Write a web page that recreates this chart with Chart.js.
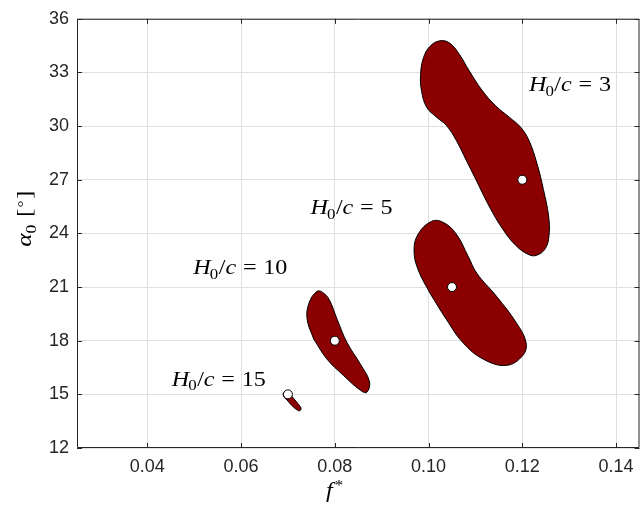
<!DOCTYPE html>
<html lang="en">
<head>
<meta charset="UTF-8">
<title>Operating regions</title>
<script src="https://cdn.jsdelivr.net/npm/chart.js"></script>
<style>
  html, body { margin: 0; padding: 0; background: #fff; overflow: hidden; }
  .chart-box { width: 645px; height: 513px; }
</style>
</head>
<body>
<div class="chart-box"><canvas id="regionChart" width="645" height="513"></canvas></div>
<script>
// axis ticks
const xTicks = [0.04, 0.06, 0.08, 0.10, 0.12, 0.14];
const yTicks = [12, 15, 18, 21, 24, 27, 30, 33, 36];

// design point (f*, alpha0) for each H0/c
const ratios = [3, 5, 10, 15];
const designF = [0.12, 0.105, 0.08, 0.07];
const designAlpha = [27, 21, 18, 15];

// region outlines (f*, alpha0), closed loops
const region3F = [0.1080, 0.1059, 0.1038, 0.1017, 0.0996, 0.0985, 0.0983, 0.0989, 0.1003, 0.1024, 0.1045, 0.1066, 0.1087, 0.1115, 0.1143, 0.1172, 0.1196, 0.1214, 0.1231, 0.1245, 0.1256, 0.1257, 0.1249, 0.1231, 0.1214, 0.1186, 0.1158, 0.1129, 0.1101, 0.1080];
const region3A = [28.11, 29.21, 30.04, 30.50, 31.05, 31.97, 32.89, 33.81, 34.46, 34.77, 34.64, 34.00, 33.08, 31.97, 31.14, 30.50, 29.95, 29.21, 27.93, 26.46, 24.98, 23.88, 23.15, 22.78, 22.81, 23.33, 24.25, 25.53, 27.01, 28.11];

const region5F = [0.1003, 0.0978, 0.0969, 0.0978, 0.1006, 0.1031, 0.1059, 0.1085, 0.1103, 0.1145, 0.1187, 0.1208, 0.1201, 0.1166, 0.1116, 0.1073, 0.1038, 0.1003];
const region5A = [20.66, 21.95, 23.05, 23.97, 24.67, 24.62, 23.97, 22.69, 21.77, 20.48, 19.01, 17.90, 17.17, 16.62, 16.98, 17.90, 19.19, 20.66];

const region10F = [0.0755, 0.0741, 0.0745, 0.0762, 0.0774, 0.0788, 0.0805, 0.0826, 0.0854, 0.0874, 0.0868, 0.0854, 0.0818, 0.0783, 0.0755];
const region10A = [18.09, 19.19, 20.11, 20.76, 20.70, 20.30, 19.19, 17.90, 16.71, 15.70, 15.11, 15.24, 16.07, 16.98, 18.09];

const region15F = [0.0719, 0.0728, 0.0725, 0.0719, 0.0707, 0.0698, 0.0691, 0.0691, 0.0700, 0.0709, 0.0719];
const region15A = [14.56, 14.22, 14.08, 14.14, 14.41, 14.69, 14.87, 15.11, 15.18, 14.87, 14.56];

// label anchors (left edge, baseline) in data units
const labelF = [0.1212, 0.0746, 0.0496, 0.0450];
const labelA = [31.94, 25.08, 21.71, 15.48];

const AXIS_COLOR = '#262626';
const GRID_COLOR = '#dfdfdf';
const REGION_FILL = '#8b0000';
const SERIF = "'Liberation Serif', 'Times New Roman', serif";

const toPoints = (xs, ys) => xs.map((v, i) => ({ x: v, y: ys[i] }));

const regions = [
    [region3F, region3A],
    [region5F, region5A],
    [region10F, region10A],
    [region15F, region15A]
];

const regionSets = regions.map(([f, a]) => ({
    data: toPoints(f, a),
    backgroundColor: REGION_FILL,
    borderColor: '#000',
    borderWidth: 1,
    fill: 'shape',
    tension: 0.4,
    pointRadius: 0,
    order: 2
}));

// set a small math expression: parts are [text, italic, baseline shift, gap before (em)]
function drawMath(ctx, x, y, size, sx, parts) {
    ctx.save();
    ctx.translate(x, y);
    ctx.scale(sx, 1);
    let cx = 0;
    parts.forEach(([text, italic, shift, gap]) => {
        const fs = shift !== 0 ? size * 0.7 : size;
        ctx.font = (italic ? 'italic ' : '') + fs + 'px ' + SERIF;
        cx += (gap || 0) * size;
        ctx.fillText(text, cx, shift);
        cx += ctx.measureText(text).width;
    });
    ctx.restore();
}

const ratioParts = n => [
    ['H', true, 0],
    ['0', false, 4.5, -0.04],
    ['/', false, 0, 0.02],
    ['c', true, 0],
    ['=', false, 0, 0.28],
    [String(n), false, 0, 0.28]
];

const annotations = {
    id: 'annotations',
    afterDatasetsDraw(chart) {
        const { ctx, chartArea: a, scales: { x, y } } = chart;
        ctx.save();
        ctx.fillStyle = '#000';
        ctx.textBaseline = 'alphabetic';
        ctx.textAlign = 'left';
        ratios.forEach((r, i) => {
            drawMath(ctx, x.getPixelForValue(labelF[i]) + 1, y.getPixelForValue(labelA[i]), 21, 1.15, ratioParts(r));
        });

        // x axis title f*
        drawMath(ctx, a.left + 249, a.bottom + 49, 22, 1.1, [
            ['f', true, 0],
            ['*', false, -7, 0.08]
        ]);

        // y axis title alpha_0 [deg], rotated
        ctx.save();
        ctx.translate(31, a.top + 228);
        ctx.rotate(-Math.PI / 2);
        drawMath(ctx, 0, 0, 22, 1.15, [
            ['\u03b1', true, 0],
            ['0', false, 4.5],
            ['[', false, 0, 0.3],
            ['\u00b0', false, -3, 0.05],
            [']', false, 0, 0.05]
        ]);
        ctx.restore();

        // box and inward ticks
        ctx.strokeStyle = AXIS_COLOR;
        ctx.lineWidth = 1;
        ctx.beginPath();
        ctx.rect(a.left + 0.5, a.top + 0.5, a.right - a.left - 1, a.bottom - a.top - 1);
        xTicks.forEach(v => {
            const px = Math.round(x.getPixelForValue(v)) + 0.5;
            ctx.moveTo(px, a.bottom); ctx.lineTo(px, a.bottom - 5);
            ctx.moveTo(px, a.top); ctx.lineTo(px, a.top + 5);
        });
        yTicks.forEach(v => {
            const py = Math.round(y.getPixelForValue(v)) + 0.5;
            ctx.moveTo(a.left, py); ctx.lineTo(a.left + 5, py);
            ctx.moveTo(a.right, py); ctx.lineTo(a.right - 5, py);
        });
        ctx.stroke();
        ctx.restore();
    }
};

new Chart(document.getElementById('regionChart'), {
    type: 'line',
    data: {
        datasets: [
            {
                data: toPoints(designF, designAlpha),
                showLine: false,
                pointRadius: 4.5,
                pointBackgroundColor: '#fff',
                pointBorderColor: '#000',
                pointBorderWidth: 1,
                order: 0
            },
            ...regionSets
        ]
    },
    options: {
        responsive: false,
        animation: false,
        layout: { padding: { top: 12, right: 0, left: 0, bottom: 0 } },
        plugins: {
            legend: { display: false },
            tooltip: { enabled: false }
        },
        scales: {
            x: {
                type: 'linear',
                min: 0.025,
                max: 0.145,
                afterBuildTicks: s => { s.ticks = xTicks.map(v => ({ value: v })); },
                afterFit: s => { s.height = 65; },
                grid: { color: GRID_COLOR, drawTicks: false },
                border: { display: false },
                ticks: {
                    padding: 8,
                    color: AXIS_COLOR,
                    maxRotation: 0,
                    font: { family: "'Liberation Sans', Arial, sans-serif", size: 18 },
                    callback: v => v.toFixed(2)
                }
            },
            y: {
                type: 'linear',
                min: 12,
                max: 36,
                afterBuildTicks: s => { s.ticks = yTicks.map(v => ({ value: v })); },
                afterFit: s => { s.width = 77; },
                grid: { color: GRID_COLOR, drawTicks: false },
                border: { display: false },
                ticks: {
                    padding: 8,
                    color: AXIS_COLOR,
                    font: { family: "'Liberation Sans', Arial, sans-serif", size: 18 },
                    callback: v => String(v)
                }
            }
        }
    },
    plugins: [annotations]
});
</script>
</body>
</html>
